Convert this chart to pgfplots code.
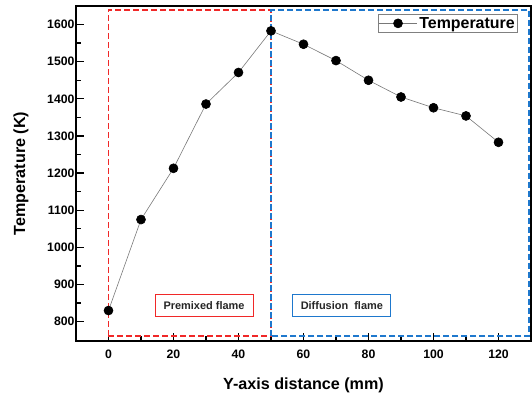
\documentclass[border=0pt]{standalone}
\usepackage{fontspec}
\setmainfont{Liberation Sans}
\usepackage{pgfplots}
\pgfplotsset{compat=1.18}
\definecolor{dred}{RGB}{240,40,40}
\definecolor{dblue}{RGB}{30,120,205}
\definecolor{lgray}{RGB}{120,120,120}
\begin{document}
\begin{tikzpicture}
\begin{axis}[
  at={(0,0)}, anchor=south west,
  scale only axis, width=455bp, height=335bp,
  xmin=-10, xmax=130, ymin=748, ymax=1650,
  xtick={0,20,...,120}, minor x tick num=1,
  ytick={800,900,...,1600}, minor y tick num=1,
  xtick pos=left, ytick pos=left, tick align=inside,
  major tick length=8bp, minor tick length=5bp,
  every tick/.style={black, line width=1.3pt},
  axis line style={line width=2pt},
  /pgf/number format/assume math mode=true,
  /pgf/number format/1000 sep={},
  ticklabel style={font=\fontsize{12.3}{14}\selectfont\bfseries},
  xticklabel style={yshift=-5bp},
  yticklabel style={xshift=2bp},
  xlabel={Y-axis distance (mm)}, ylabel={Temperature (K)},
  label style={font=\fontsize{16.2}{19}\selectfont\bfseries},
  xlabel style={yshift=-13bp},
  ylabel style={yshift=12bp},
  legend style={at={(0.971,0.976)}, anchor=north east, draw=gray, line width=0.6pt,
    font=\fontsize{16}{18}\selectfont\bfseries, inner sep=0.8bp},
  legend image code/.code={\draw[mark repeat=2,mark phase=2] plot coordinates {(0bp,0bp)(19bp,0bp)(38bp,0bp)};},
  clip=false,
]
\addplot[lgray, line width=0.6pt, mark=*, mark options={black, fill=black, draw=black}, mark size=4.5bp]
coordinates {(0,830)(10,1075)(20,1213)(30,1386)(40,1471)(50,1583)(60,1547)(70,1503)(80,1450)(90,1405)(100,1376)(110,1354)(120,1283)};
\addlegendentry{Temperature}
\draw[dred, line width=1.7pt, dash pattern=on 6bp off 3bp] (axis cs:0,762) rectangle (axis cs:50,1640);
\draw[dblue, line width=1.7pt, dash pattern=on 6bp off 3bp] (axis cs:50,762) rectangle (axis cs:129.4,1640);
\node[draw=dred, line width=0.8pt, minimum width=98bp, minimum height=22bp, inner sep=2bp,
  font=\fontsize{11}{13}\selectfont\bfseries, text=black!85] at (axis cs:29.4,843) {Premixed flame};
\node[draw=dblue, line width=0.8pt, minimum width=98bp, minimum height=22bp, inner sep=2bp,
  font=\fontsize{11}{13}\selectfont\bfseries, text=black!85] at (axis cs:71.8,843) {Diffusion\ \ flame};
\end{axis}
\pgfresetboundingbox
\path (-76bp,-55bp) rectangle (456bp,341bp);
\end{tikzpicture}
\end{document}
